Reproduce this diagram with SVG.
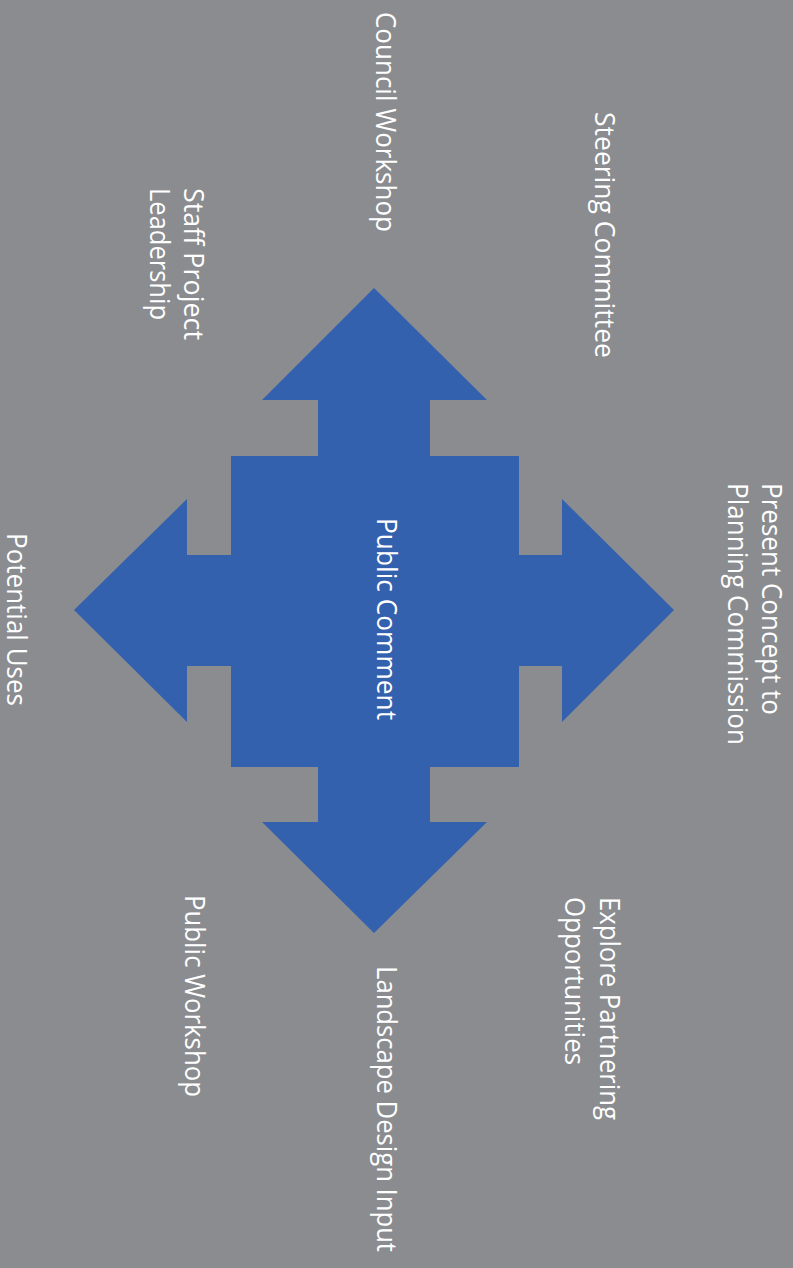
<svg xmlns="http://www.w3.org/2000/svg" width="793" height="1268" viewBox="0 0 793 1268">
  <style>
    .bg { fill: #8a8c90; }
    .shape { fill: #3461ae; }
    .lbl { font-family: "Open Sans", "DejaVu Sans", sans-serif; font-size: 28px; fill: #ffffff; }
  </style>
  <rect class="bg" x="0" y="0" width="793" height="1268"/>
  <g id="connectors"/>
  <g id="node-center">
    <polygon class="shape" points="374,288 487,400 430,400 430,456 519,456 519,555 562,555 562,499 674,610 562,722 562,666 519,666 519,767 430,767 430,822 487,822 374,933 262,822 318,822 318,767 231,767 231,666 187,666 187,722 74,610 187,499 187,555 231,555 231,456 318,456 318,400 262,400"/>
    <text class="lbl" transform="translate(377,518) rotate(90)" textLength="202" lengthAdjust="spacingAndGlyphs">Public Comment</text>
  </g>
  <g id="node-council">
    <text class="lbl" transform="translate(376,12) rotate(90)" textLength="220" lengthAdjust="spacingAndGlyphs">Council Workshop</text>
  </g>
  <g id="node-steering">
    <text class="lbl" transform="translate(595,112) rotate(90)" textLength="246" lengthAdjust="spacingAndGlyphs">Steering Committee</text>
  </g>
  <g id="node-staff">
    <text class="lbl" transform="translate(184,188) rotate(90)" textLength="152" lengthAdjust="spacingAndGlyphs">Staff Project</text>
    <text class="lbl" transform="translate(150,188) rotate(90)" textLength="132" lengthAdjust="spacingAndGlyphs">Leadership</text>
  </g>
  <g id="node-present">
    <text class="lbl" transform="translate(762,483) rotate(90)" textLength="232" lengthAdjust="spacingAndGlyphs">Present Concept to</text>
    <text class="lbl" transform="translate(728,483) rotate(90)" textLength="262" lengthAdjust="spacingAndGlyphs">Planning Commission</text>
  </g>
  <g id="node-potential">
    <text class="lbl" transform="translate(7,533) rotate(90)" textLength="173" lengthAdjust="spacingAndGlyphs">Potential Uses</text>
  </g>
  <g id="node-public-workshop">
    <text class="lbl" transform="translate(185,895) rotate(90)" textLength="202" lengthAdjust="spacingAndGlyphs">Public Workshop</text>
  </g>
  <g id="node-landscape">
    <text class="lbl" transform="translate(377,966) rotate(90)" textLength="286" lengthAdjust="spacingAndGlyphs">Landscape Design Input</text>
  </g>
  <g id="node-explore">
    <text class="lbl" transform="translate(600,897) rotate(90)" textLength="223" lengthAdjust="spacingAndGlyphs">Explore Partnering</text>
    <text class="lbl" transform="translate(565,897) rotate(90)" textLength="168" lengthAdjust="spacingAndGlyphs">Opportunities</text>
  </g>
</svg>
